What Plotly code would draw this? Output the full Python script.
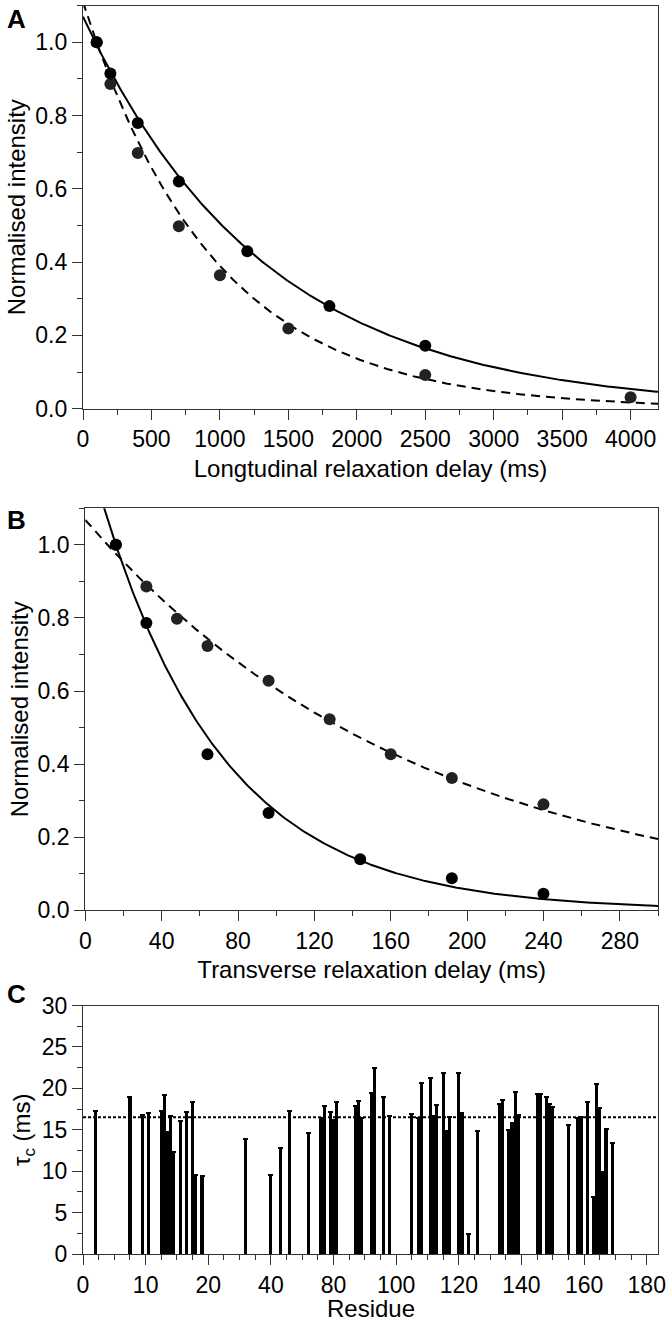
import numpy as np
import plotly.graph_objects as go

W, H = 668, 1326

# --- panel A: longitudinal relaxation ---
t1_delay_solid = [100, 200, 400, 700, 1200, 1800, 2500]
t1_int_solid = [1.0, 0.915, 0.78, 0.62, 0.43, 0.28, 0.172]
t1_delay_dash = [100, 200, 400, 700, 1000, 1500, 2500, 4000]
t1_int_dash = [1.0, 0.886, 0.698, 0.498, 0.364, 0.219, 0.092, 0.031]
t1_fit_solid = (1.07, 1335.0)   # amplitude, time constant (ms)
t1_fit_dash = (1.11, 955.0)

# --- panel B: transverse relaxation ---
t2_delay_solid = [16, 32, 64, 96, 144, 192, 240]
t2_int_solid = [1.0, 0.786, 0.427, 0.266, 0.14, 0.088, 0.045]
t2_delay_dash = [16, 32, 48, 64, 96, 128, 160, 192, 240]
t2_int_dash = [1.0, 0.886, 0.798, 0.723, 0.628, 0.523, 0.427, 0.362, 0.29]
t2_fit_solid = (1.283, 64.2)
t2_fit_dash = (1.068, 176.4)

# --- panel C: correlation time per residue ---
residue = [4, 15, 19, 21, 25, 26, 27, 28, 29, 31, 33, 35, 36, 38, 52,
           60, 63, 66, 72, 76, 77, 79, 80, 81, 87, 88, 89, 92, 93, 96, 98,
           105, 107, 108, 111, 112, 113, 115, 116, 117, 120, 121, 123, 126,
           133, 134, 136, 137, 138, 139, 145, 146, 148, 149, 150, 155, 158,
           159, 161, 163, 164, 165, 166, 167, 169]
tau_c = [17.3, 18.9, 16.8, 17.0, 17.3, 19.2, 14.7, 16.7, 12.3, 16.1, 17.2,
         18.3, 9.5, 9.4, 13.9,
         9.5, 12.85, 17.3, 14.6, 16.4, 17.9, 17.1, 16.2, 18.3, 17.9, 18.5,
         16.4, 19.4, 22.45, 19.0, 16.7,
         16.85, 16.4, 20.7, 21.3, 16.7, 18.0, 21.9, 14.8, 16.6, 21.85, 17.0,
         2.4, 14.8,
         18.1, 18.6, 15.0, 15.8, 19.5, 16.8, 19.3, 19.35, 18.9, 18.1, 17.8,
         15.55, 16.4, 16.5, 18.4, 6.85, 20.5, 17.6, 9.9, 15.1, 13.4]
tau_c_mean = 16.5
res_ticks = [0, 20, 40, 60, 80, 100, 120, 140, 160, 180]
res_ticktext = ["0", "10", "20", "40", "80", "100", "120", "140", "160", "180"]

FONT = "Liberation Sans, Arial, sans-serif"
AX = "#333333"


def px_x(p):
    return p / W


def px_y(p):
    return 1 - p / H


def fit_curve(p, xmax):
    x = np.linspace(0, xmax, 400)
    return x, p[0] * np.exp(-x / p[1])


fig = go.Figure()

# panel A
for p, dash in [(t1_fit_dash, "9px,6px"), (t1_fit_solid, "solid")]:
    x, y = fit_curve(p, 4200)
    fig.add_trace(go.Scatter(x=x, y=y, mode="lines", xaxis="x", yaxis="y",
                             line=dict(color="black", width=2, dash=dash)))
fig.add_trace(go.Scatter(x=t1_delay_dash, y=t1_int_dash, mode="markers", xaxis="x", yaxis="y",
                         marker=dict(color="#222222", size=12)))
fig.add_trace(go.Scatter(x=t1_delay_solid, y=t1_int_solid, mode="markers", xaxis="x", yaxis="y",
                         marker=dict(color="black", size=12)))

# panel B
for p, dash in [(t2_fit_dash, "9px,6px"), (t2_fit_solid, "solid")]:
    x, y = fit_curve(p, 300)
    fig.add_trace(go.Scatter(x=x, y=y, mode="lines", xaxis="x2", yaxis="y2",
                             line=dict(color="black", width=2, dash=dash)))
fig.add_trace(go.Scatter(x=t2_delay_dash, y=t2_int_dash, mode="markers", xaxis="x2", yaxis="y2",
                         marker=dict(color="#222222", size=12)))
fig.add_trace(go.Scatter(x=t2_delay_solid, y=t2_int_solid, mode="markers", xaxis="x2", yaxis="y2",
                         marker=dict(color="black", size=12)))

# panel C
fig.add_trace(go.Bar(x=residue, y=tau_c, width=1.0, xaxis="x3", yaxis="y3",
                     marker=dict(color="black", line=dict(width=0)),
                     error_y=dict(type="data", array=[0] * len(tau_c), visible=True,
                                  width=2.5, thickness=2, color="black")))
fig.add_shape(type="line", xref="x3 domain", yref="y3", x0=0, x1=1,
              y0=tau_c_mean, y1=tau_c_mean,
              line=dict(color="black", width=2, dash="3px,2px"))


def axis(domain, rng, dtick, minor, title, standoff, **kw):
    d = dict(domain=domain, range=rng, dtick=dtick, tick0=0,
             showline=True, linecolor=AX, linewidth=1.3, mirror=True,
             ticks="outside", ticklen=10, tickwidth=1.3, tickcolor=AX,
             minor=dict(dtick=minor, ticks="outside", ticklen=5, tickwidth=1.3, tickcolor=AX),
             showgrid=False, zeroline=False, automargin=False,
             tickfont=dict(size=23, color="black", family=FONT),
             title=dict(text=title, standoff=standoff,
                        font=dict(size=24, color="black", family=FONT)))
    d.update(kw)
    return d


xd = [px_x(83), px_x(658)]
fig.update_layout(
    width=W, height=H, margin=dict(l=0, r=0, t=0, b=0),
    paper_bgcolor="white", plot_bgcolor="white", showlegend=False,
    font=dict(family=FONT, color="black"),
    xaxis=axis(xd, [0, 4200], 500, 250, "Longtudinal relaxation delay (ms)", 8, anchor="y"),
    yaxis=axis([px_y(408.7), px_y(5.7)], [0, 1.1], 0.2, 0.1, "Normalised intensity", 2,
               anchor="x", tickformat=".1f"),
    xaxis2=axis([px_x(85.3), px_x(658)], [0, 300], 40, 20, "Transverse relaxation delay (ms)", 8,
                anchor="y2"),
    yaxis2=axis([px_y(910.3), px_y(508.3)], [0, 1.1], 0.2, 0.1, "Normalised intensity", 2,
                anchor="x2", tickformat=".1f"),
    xaxis3=axis(xd, [0, 183.6], 20, 5, "", 6, anchor="y3", ticklabeloverflow="allow",
                tickmode="array", tickvals=res_ticks, ticktext=res_ticktext),
    yaxis3=axis([px_y(1254), px_y(1005.5)], [0, 30], 5, 2.5, "τ<sub>c</sub> (ms)", 4, anchor="x3"),
    bargap=0,
)

fig.add_annotation(text="Residue", xref="paper", yref="paper",
                   x=(xd[0] + xd[1]) / 2, y=px_y(1308), xanchor="center", yanchor="middle",
                   showarrow=False, font=dict(size=24, color="black", family=FONT))

for label, ypx in [("A", 19), ("B", 520), ("C", 994)]:
    fig.add_annotation(text="<b>%s</b>" % label, xref="paper", yref="paper",
                       x=px_x(5), y=px_y(ypx), xanchor="left", yanchor="middle",
                       showarrow=False, font=dict(size=26, color="black", family=FONT))

# drop the default 8px body margin so the figure fills the window exactly
fig.write_html("out.html", config={"displayModeBar": False},
               post_script="document.body.style.margin='0';")
